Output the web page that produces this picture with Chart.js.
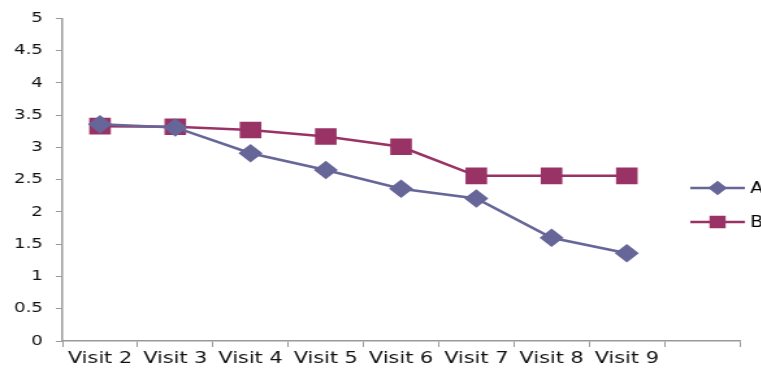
<!DOCTYPE html>
<html>
<head>
<meta charset="utf-8">
<script src="https://cdn.jsdelivr.net/npm/chart.js@4/dist/chart.umd.min.js"></script>
<style>
  html, body { margin: 0; padding: 0; background: #fff; overflow: hidden; }
  /* o original está esticado na horizontal, por isso o scaleX */
  #wrap { width: 586px; height: 370px; position: relative; transform: scaleX(1.3); transform-origin: 0 0; }
</style>
</head>
<body>
<div id="wrap"><canvas id="grafico"></canvas></div>
<script>
const categorias = ['Visit 2', 'Visit 3', 'Visit 4', 'Visit 5', 'Visit 6', 'Visit 7', 'Visit 8', 'Visit 9', ''];
const serieA = [3.36, 3.31, 2.91, 2.65, 2.36, 2.21, 1.6, 1.36, null];
const serieB = [3.33, 3.32, 3.27, 3.17, 3.01, 2.56, 2.56, 2.56, null];
const nomesSeries = ['A', 'B'];

const corA = '#666699';
const corB = '#993366';

// legenda desenhada à mão: linha + marcador, como no Excel
const legendaPlugin = {
    id: 'legendaLinha',
    afterDraw(chart) {
        const ctx = chart.ctx;
        const raios = [5.5, 7];
        chart.data.datasets.forEach((ds, i) => {
            const y = 188 + i * 34;
            ctx.save();
            ctx.strokeStyle = ds.borderColor;
            ctx.lineWidth = 2.5;
            ctx.beginPath();
            ctx.moveTo(531, y);
            ctx.lineTo(573, y);
            ctx.stroke();
            ctx.fillStyle = ds.backgroundColor;
            ctx.strokeStyle = ds.backgroundColor;
            Chart.helpers.drawPoint(ctx, {
                pointStyle: ds.pointStyle,
                radius: raios[i],
                rotation: 0,
                borderWidth: 1
            }, 552, y);
            ctx.fillStyle = '#000';
            ctx.font = '15px "DejaVu Sans"';
            ctx.textBaseline = 'middle';
            ctx.fillText(ds.label, 577, y + 1);
            ctx.restore();
        });
    }
};

new Chart(document.getElementById('grafico'), {
    type: 'line',
    data: {
        labels: categorias,
        datasets: [{
            label: nomesSeries[0],
            data: serieA,
            borderColor: corA,
            backgroundColor: corA,
            borderWidth: 2.5,
            pointStyle: 'rectRot',
            pointRadius: 7.5,
            pointHoverRadius: 7.5,
            tension: 0
        }, {
            label: nomesSeries[1],
            data: serieB,
            borderColor: corB,
            backgroundColor: corB,
            borderWidth: 2.5,
            pointStyle: 'rect',
            pointRadius: 10,
            pointHoverRadius: 10,
            tension: 0
        }]
    },
    options: {
        responsive: true,
        maintainAspectRatio: false,
        animation: false,
        layout: { padding: { top: 6, right: 17, left: 0, bottom: 0 } },
        plugins: {
            legend: { display: false },
            tooltip: { enabled: false }
        },
        scales: {
            x: {
                offset: true,
                grid: {
                    offset: true,
                    drawOnChartArea: false,
                    tickLength: 6,
                    color: '#999'
                },
                border: { color: '#999', width: 1.5 },
                ticks: {
                    font: { family: 'DejaVu Sans', size: 16 },
                    color: '#111',
                    padding: 2,
                    maxRotation: 0,
                    autoSkip: false
                },
                afterFit(scale) { scale.height = 29; }
            },
            y: {
                min: 0,
                max: 5,
                ticks: {
                    stepSize: 0.5,
                    font: { family: 'DejaVu Sans', size: 14 },
                    color: '#111',
                    padding: 10,
                    callback: v => String(v)
                },
                grid: {
                    drawOnChartArea: false,
                    tickLength: 5,
                    color: '#999'
                },
                border: { color: '#999', width: 1.5 },
                afterFit(scale) { scale.width = 48; }
            }
        }
    },
    plugins: [legendaPlugin]
});
</script>
</body>
</html>
